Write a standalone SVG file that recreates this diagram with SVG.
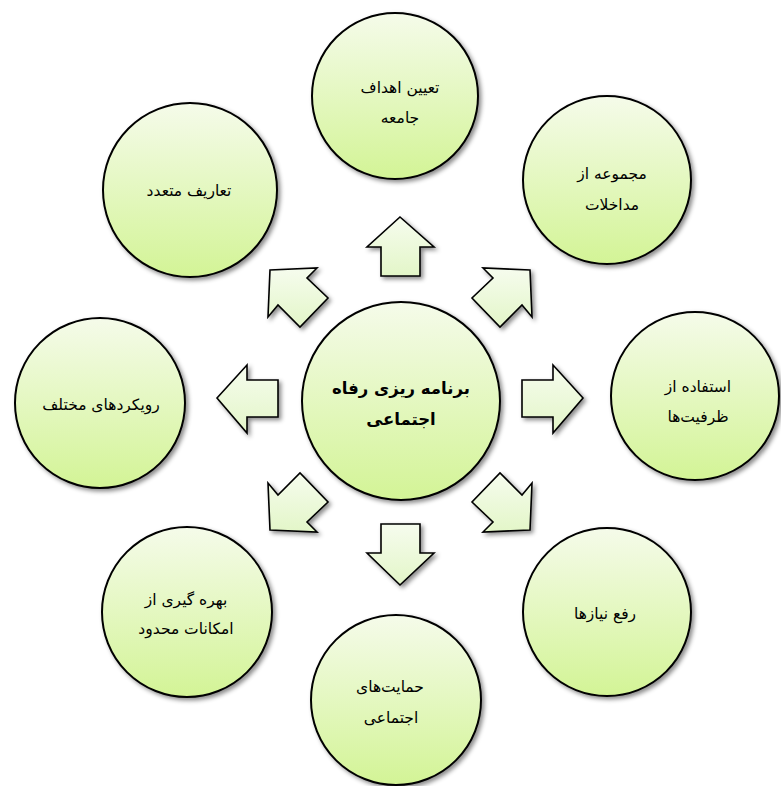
<svg xmlns="http://www.w3.org/2000/svg" width="781" height="786" viewBox="0 0 781 786">
<defs>
<linearGradient id="gc" x1="0" y1="0" x2="0" y2="1">
<stop offset="0" stop-color="#f5fbea"/>
<stop offset="1" stop-color="#d3f496"/>
</linearGradient>
<linearGradient id="ga" x1="0" y1="0" x2="0" y2="1">
<stop offset="0" stop-color="#f6fcee"/>
<stop offset="1" stop-color="#e3f6c8"/>
</linearGradient>
<filter id="sh" x="-20%" y="-20%" width="150%" height="150%">
<feDropShadow dx="2.5" dy="2.5" stdDeviation="2" flood-color="#000" flood-opacity="0.45"/>
</filter>
</defs>
<style>
.c{fill:url(#gc);stroke:#000;stroke-width:2;filter:url(#sh)}
.a{fill:url(#ga);stroke:#000;stroke-width:1.6;stroke-linejoin:miter;filter:url(#sh)}
.t{font-family:"DejaVu Sans",sans-serif;font-size:15.5px;fill:#000;text-anchor:middle}
.b{font-family:"DejaVu Sans",sans-serif;font-size:16.5px;font-weight:bold;fill:#000;text-anchor:middle}
</style>
<rect width="781" height="786" fill="#fff"/>
<g id="connectors">
<polygon class="a" points="400,217 434,247 420,247 420,276 381,276 381,247 367,247"/>
<polygon class="a" points="400,585 434,553 420,553 420,524 381,524 381,553 367,553"/>
<polygon class="a" points="583,398 553,365 553,380 522,380 522,417 553,417 553,433"/>
<polygon class="a" points="217,398 247,365 247,380 278,380 278,417 247,417 247,433"/>
<polygon class="a" points="530,270 483,268 493,278 472,298 500,327 522,305 532,317"/>
<polygon class="a" points="270,270 317,268 307,278 328,298 300,327 278,305 268,317"/>
<polygon class="a" points="530,530 483,532 493,522 472,502 500,473 522,495 532,483"/>
<polygon class="a" points="270,530 317,532 307,522 328,502 300,473 278,495 268,483"/>
</g>
<g id="center">
<circle class="c" cx="401" cy="401" r="99"/>
<text class="b" x="401" y="394">برنامه ریزی رفاه</text>
<text class="b" x="401" y="425">اجتماعی</text>
</g>
<g id="top">
<circle class="c" cx="395" cy="96" r="83"/>
<text class="t" x="400" y="93">تعیین اهداف</text>
<text class="t" x="400" y="123">جامعه</text>
</g>
<g id="ne">
<circle class="c" cx="607" cy="180" r="84"/>
<text class="t" x="612" y="179">مجموعه از</text>
<text class="t" x="612" y="210">مداخلات</text>
</g>
<g id="e">
<circle class="c" cx="695" cy="396" r="84"/>
<text class="t" x="698" y="392">استفاده از</text>
<text class="t" x="698" y="422">ظرفیت‌ها</text>
</g>
<g id="se">
<circle class="c" cx="607" cy="612" r="84"/>
<text class="t" x="605" y="619">رفع نیازها</text>
</g>
<g id="s">
<circle class="c" cx="396" cy="700" r="85"/>
<text class="t" x="390" y="692">حمایت‌های</text>
<text class="t" x="391" y="723">اجتماعی</text>
</g>
<g id="sw">
<circle class="c" cx="187" cy="612" r="85"/>
<text class="t" x="186" y="605">بهره گیری از</text>
<text class="t" x="186" y="634">امکانات محدود</text>
</g>
<g id="w">
<circle class="c" cx="100" cy="403" r="85"/>
<text class="t" x="101" y="410">رویکردهای مختلف</text>
</g>
<g id="nw">
<circle class="c" cx="190" cy="190" r="87"/>
<text class="t" x="189" y="196">تعاریف متعدد</text>
</g>
</svg>
